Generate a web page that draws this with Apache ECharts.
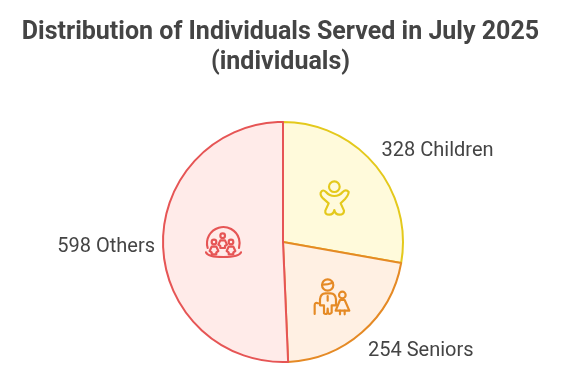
<!DOCTYPE html>
<html>
<head>
<meta charset="utf-8">
<style>html,body{margin:0;padding:0;background:#fff}#main{width:565px;height:376px}</style>
<script src="https://cdn.jsdelivr.net/npm/echarts@6/dist/echarts.min.js"></script>
</head>
<body>
<div id="main"></div>
<script>
var categories = ['Children', 'Seniors', 'Others'];
var values = [328, 254, 598];
var fills = ['#fffadb', '#fff0e3', '#ffebe9'];
var borders = ['#e4c91c', '#e58a25', '#e65555'];
var labelOffsets = [[-3, -10], [-3, 14], [3, 2]];

var chart = echarts.init(document.getElementById('main'));

// icon shapes have to be registered before the graphic component can use them
var shapeCount = 0;
function svgShape(d) {
    var name = 'iconPath' + (shapeCount++);
    echarts.graphic.registerShape(name, echarts.graphic.extendPath(d, {}));
    return name;
}

// icons are drawn on a 3x grid, then scaled down
function icon(x, y, color, parts) {
    return {
        type: 'group', x: x, y: y, scaleX: 1 / 3, scaleY: 1 / 3, silent: true,
        children: parts.map(function (p) {
            var st = { fill: 'none', stroke: color, lineWidth: 6.5, lineJoin: 'round', lineCap: 'round' };
            if (typeof p !== 'string') {
                return { type: 'circle', z: 10, shape: { cx: p[0], cy: p[1], r: p[2] }, style: st };
            }
            return { type: svgShape(p), z: 10, style: st };
        })
    };
}

var option = {
    backgroundColor: '#fff',
    animation: false,
    title: {
        text: 'Distribution of Individuals Served in July 2025\n(individuals)',
        left: 275.5,
        top: 13,
        textAlign: 'center',
        textStyle: { fontFamily: 'Roboto', fontSize: 25, fontWeight: 'bold', color: '#444', lineHeight: 30 }
    },
    series: [{
        type: 'pie',
        center: [283, 242],
        radius: [0, 120],
        startAngle: 90,
        clockwise: true,
        avoidLabelOverlap: false,
        silent: true,
        label: { show: true, position: 'outside', formatter: function (p) { return p.value + ' ' + p.name; }, fontFamily: 'Roboto', fontSize: 20, color: '#444' },
        labelLine: { show: false, length: 6, length2: 0 },
        data: categories.map(function (name, i) {
            return {
                name: name,
                value: values[i],
                itemStyle: { color: fills[i], borderColor: borders[i], borderWidth: 2 },
                label: { offset: labelOffsets[i] }
            };
        })
    }],
    graphic: [
        icon(300, 170, borders[0], [
            [103, 50, 16],
            'M62 68 Q68 56 78 66 Q88 78 103 78 Q118 78 128 66 Q138 56 146 66 Q146 74 136 86 L122 100 L132 122 Q132 134 118 134 Q106 134 103 120 Q100 134 88 134 Q74 134 76 122 L86 100 L70 86 Q60 76 62 68 Z'
        ]),
        icon(300, 270, borders[1], [
            [83, 45, 17],
            'M68 44 Q84 44 98 38',
            'M72 130 L72 106 L60 106 L60 88 Q62 70 76 70 L92 70 Q106 70 108 88 L108 106 L95 106 L95 128 Q90 134 84 130 L83 116 L82 130 Q76 134 72 130 Z',
            'M83 78 L83 92',
            'M44 132 L44 106 Q44 96 54 100',
            [127, 75, 10],
            'M120 90 L134 90 L148 122 L107 122 Z',
            'M120 122 L120 133 M134 122 L134 133'
        ]),
        icon(195, 215, borders[2], [
            [57, 81, 7], [83, 62, 7], [108, 81, 7],
            'M50 95 L64 95 L70 108 L64 112 L64 118 L50 118 L50 112 L44 108 Z',
            'M76 76 L90 76 L96 89 L90 93 L90 99 L76 99 L76 93 L70 89 Z',
            'M101 95 L115 95 L121 108 L115 112 L115 118 L101 118 L101 112 L95 108 Z',
            'M38 99 A49 49 0 1 1 132 99',
            'M33 112 Q38 126 85 126 Q132 126 138 112'
        ])
    ]
};
chart.setOption(option);
</script>
</body>
</html>
